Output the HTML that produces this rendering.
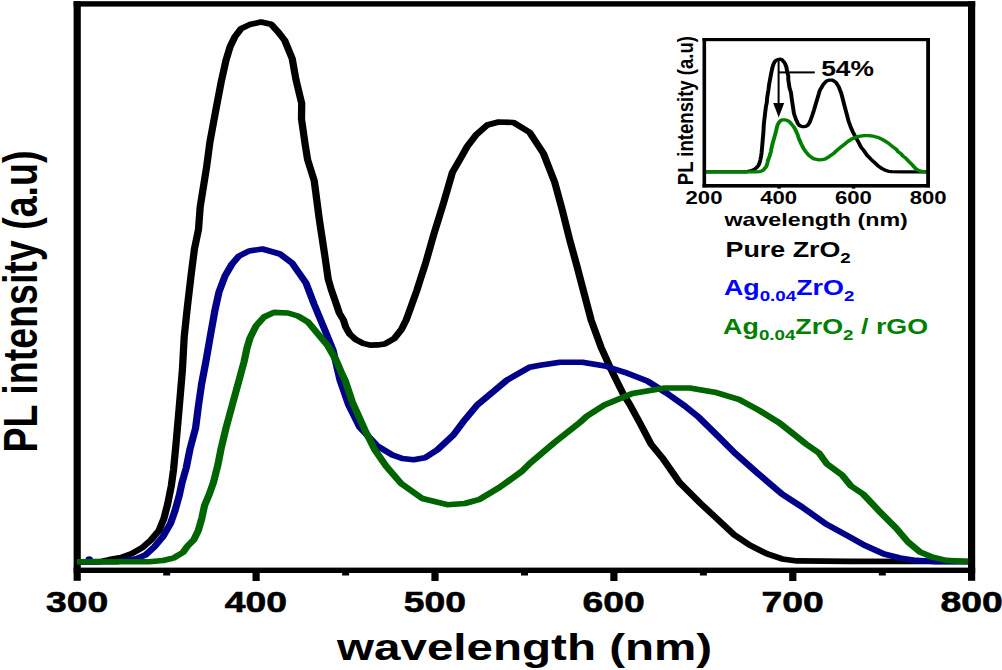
<!DOCTYPE html>
<html><head><meta charset="utf-8"><style>
html,body{margin:0;padding:0;background:#fff}
svg{display:block}
text{font-family:"Liberation Sans",sans-serif;font-weight:bold}
</style></head><body>
<svg width="1002" height="670" viewBox="0 0 1002 670">
<rect width="1002" height="670" fill="#fff"/>
<!-- main frame -->
<g fill="#000">
<rect x="73.6" y="1.2" width="7.2" height="579.6"/>
<rect x="968" y="1.2" width="7.2" height="579.6"/>
<rect x="73.6" y="1.2" width="901.6" height="5.4"/>
<rect x="73.6" y="567.6" width="901.6" height="5.4"/>
<rect x="252.5" y="570" width="7.2" height="11"/><rect x="431.4" y="570" width="7.2" height="11"/><rect x="610.3" y="570" width="7.2" height="11"/><rect x="789.2" y="570" width="7.2" height="11"/><rect x="163.2" y="570" width="7" height="5.5"/><rect x="342.1" y="570" width="7" height="5.5"/><rect x="521.0" y="570" width="7" height="5.5"/><rect x="699.9" y="570" width="7" height="5.5"/><rect x="878.8" y="570" width="7" height="5.5"/>
</g>
<g fill="none" stroke-linejoin="round" stroke-linecap="butt" transform="scale(1.3,1)" stroke-width="5.6">
<path d="M59.23,561.90 L76.92,561.60 L84.08,559.60 L93.08,557.50 L101.54,553.40 L109.62,547.50 L116.15,540.00 L122.31,530.50 L126.15,518.30 L129.00,503.90 L131.77,485.90 L133.46,470.00 L135.38,444.00 L137.69,410.00 L140.31,370.00 L141.69,337.00 L144.15,306.70 L147.08,274.30 L149.54,249.30 L152.69,229.40 L154.00,206.90 L158.92,167.00 L161.46,142.20 L165.69,112.30 L170.08,82.30 L173.92,59.90 L177.15,46.20 L180.62,36.90 L185.46,28.70 L192.15,24.50 L200.77,22.00 L208.46,24.20 L214.23,32.40 L219.00,40.40 L224.77,58.60 L227.69,79.80 L232.08,103.50 L231.92,119.00 L234.77,144.70 L236.62,159.70 L241.69,180.60 L245.62,219.40 L250.15,258.20 L252.46,279.10 L254.92,290.00 L258.15,302.00 L260.92,312.80 L264.15,319.90 L265.92,327.10 L269.15,334.30 L273.77,339.70 L279.31,343.30 L284.85,345.10 L290.38,344.90 L295.92,343.90 L303.31,338.50 L308.77,329.50 L312.46,319.90 L316.15,306.80 L320.77,290.00 L323.23,279.90 L327.31,263.50 L333.62,234.70 L341.31,202.30 L348.00,172.40 L354.69,157.40 L359.54,146.20 L366.23,134.90 L374.85,125.00 L383.54,122.00 L395.00,122.50 L407.46,132.40 L418.08,153.60 L426.69,182.30 L432.46,209.80 L438.23,239.70 L443.92,266.70 L447.08,282.40 L454.69,319.90 L462.38,347.30 L471.08,372.30 L479.69,394.70 L484.23,404.00 L492.23,423.00 L500.85,444.20 L509.54,457.90 L522.92,482.80 L538.31,502.80 L551.77,519.00 L565.15,535.20 L576.69,545.20 L590.15,553.90 L601.62,558.90 L613.15,560.90 L653.85,561.40 L744.62,561.50" stroke="#000"/>
<circle cx="68.62" cy="559.1" r="1.4" stroke="#00008b" stroke-width="2.8"/>
<path d="M59.23,562.00 L90.77,561.60 L96.54,560.30 L104.85,558.70 L111.77,555.10 L118.62,547.00 L125.54,536.20 L131.08,523.70 L134.54,511.10 L138.00,494.90 L140.08,482.30 L143.23,468.00 L146.15,449.00 L150.46,428.00 L152.62,406.00 L155.08,384.00 L158.31,362.00 L161.92,335.00 L165.38,310.00 L168.46,292.00 L173.08,276.00 L178.46,264.00 L183.85,256.00 L191.54,251.00 L201.85,249.00 L215.38,254.00 L224.62,263.00 L235.38,283.00 L241.54,304.00 L249.23,328.00 L256.15,350.00 L261.54,380.00 L268.23,405.00 L276.85,427.40 L290.31,446.10 L301.85,454.90 L309.54,458.60 L318.15,459.80 L326.77,457.80 L336.38,449.90 L348.85,434.90 L357.46,419.90 L367.08,405.00 L378.62,392.50 L390.08,380.00 L407.31,367.30 L415.38,365.30 L430.77,362.30 L448.00,362.30 L465.31,366.00 L480.62,372.30 L497.92,381.00 L513.23,393.50 L526.69,405.90 L537.69,417.40 L551.77,435.40 L565.15,452.90 L582.46,472.90 L601.62,494.10 L616.92,507.00 L635.38,524.00 L652.31,536.00 L664.62,545.00 L680.00,554.00 L692.31,558.00 L704.62,560.40 L720.00,561.60 L744.62,561.60" stroke="#00008b"/>
<path d="M59.23,561.70 L114.54,561.70 L125.54,560.50 L133.85,557.80 L140.77,552.40 L144.23,546.10 L149.08,539.80 L152.46,530.80 L155.23,518.30 L157.31,505.70 L160.77,494.90 L164.23,482.30 L167.69,464.40 L170.00,449.00 L173.85,428.00 L178.46,406.00 L183.08,384.00 L187.69,362.00 L190.00,348.00 L192.31,338.00 L196.92,326.00 L203.08,317.00 L210.77,312.40 L221.54,313.00 L229.23,316.00 L236.92,322.00 L244.62,334.00 L252.31,346.00 L258.46,360.00 L263.38,374.80 L265.38,380.00 L271.15,402.50 L280.69,429.90 L288.38,449.90 L297.00,466.10 L308.54,483.50 L324.85,498.50 L344.08,504.70 L357.46,503.50 L369.00,499.30 L384.38,487.30 L401.62,471.10 L407.38,463.60 L426.62,442.40 L446.15,422.40 L450.92,416.70 L465.31,404.70 L486.38,393.50 L511.38,388.00 L530.54,388.00 L549.77,392.20 L568.92,399.70 L583.46,410.00 L599.69,423.00 L612.31,436.00 L620.00,444.00 L630.00,453.00 L636.15,464.00 L647.69,475.00 L654.62,486.00 L663.85,494.00 L676.92,512.00 L689.23,528.00 L698.46,542.00 L707.69,552.00 L716.92,557.00 L727.69,560.40 L744.62,561.60" stroke="#006400"/>
</g>
<g fill="#000">
<text transform="translate(77.0,611.7) scale(1.232,1)" text-anchor="middle" font-size="30.3" stroke="#000" stroke-width="0.6">300</text><text transform="translate(255.9,611.7) scale(1.232,1)" text-anchor="middle" font-size="30.3" stroke="#000" stroke-width="0.6">400</text><text transform="translate(434.8,611.7) scale(1.232,1)" text-anchor="middle" font-size="30.3" stroke="#000" stroke-width="0.6">500</text><text transform="translate(613.7,611.7) scale(1.232,1)" text-anchor="middle" font-size="30.3" stroke="#000" stroke-width="0.6">600</text><text transform="translate(792.6,611.7) scale(1.232,1)" text-anchor="middle" font-size="30.3" stroke="#000" stroke-width="0.6">700</text><text transform="translate(971.5,611.7) scale(1.232,1)" text-anchor="middle" font-size="30.3" stroke="#000" stroke-width="0.6">800</text>
<text transform="translate(524.6,659.6) scale(1.303,1)" text-anchor="middle" font-size="36.5">wavelength (nm)</text>
<text transform="translate(37.1,301.5) rotate(-90) scale(0.77,1)" text-anchor="middle" font-size="48.8">PL intensity (a.u)</text>
</g>
<!-- inset -->
<g fill="none" stroke-linejoin="round" stroke-width="3.3" transform="scale(1.2,1)">
<path d="M586.83,171.80 L621.88,171.82 L623.49,171.40 L625.53,170.97 L627.44,170.11 L629.26,168.88 L630.74,167.31 L632.13,165.33 L633.00,162.78 L633.64,159.78 L634.27,156.02 L634.65,152.70 L635.08,147.28 L635.60,140.18 L636.19,131.83 L636.51,124.95 L637.06,118.62 L637.72,111.86 L638.28,106.64 L638.99,102.49 L639.29,97.79 L640.40,89.47 L640.97,84.29 L641.93,78.05 L642.92,71.79 L643.79,67.12 L644.52,64.26 L645.30,62.32 L646.39,60.60 L647.91,59.73 L649.85,59.21 L651.59,59.67 L652.89,61.38 L653.97,63.05 L655.27,66.84 L655.93,71.27 L656.92,76.22 L656.89,79.45 L657.53,84.81 L657.95,87.94 L659.09,92.31 L659.98,100.40 L661.01,108.50 L661.53,112.86 L662.08,115.14 L662.81,117.64 L663.44,119.90 L664.17,121.38 L664.57,122.88 L665.30,124.38 L666.34,125.51 L667.59,126.26 L668.84,126.64 L670.09,126.60 L671.34,126.39 L673.01,125.26 L674.25,123.38 L675.08,121.38 L675.91,118.64 L676.96,115.14 L677.51,113.03 L678.43,109.61 L679.86,103.60 L681.59,96.83 L683.11,90.59 L684.62,87.46 L685.71,85.13 L687.22,82.77 L689.17,80.70 L691.13,80.08 L693.72,80.18 L696.54,82.25 L698.93,86.67 L700.88,92.66 L702.18,98.40 L703.49,104.64 L704.77,110.28 L705.49,113.55 L707.21,121.38 L708.94,127.10 L710.91,132.31 L712.85,136.99 L713.88,138.93 L715.68,142.90 L717.63,147.32 L719.59,150.18 L722.62,155.38 L726.09,159.55 L729.13,162.93 L732.16,166.31 L734.76,168.40 L737.80,170.21 L740.39,171.26 L743.00,171.67 L752.19,171.78 L773.33,171.80" stroke="#000"/>
<path d="M586.83,171.80 L630.37,171.84 L632.86,171.59 L634.74,171.03 L636.30,169.90 L637.08,168.59 L638.18,167.27 L638.94,165.39 L639.57,162.78 L640.03,160.15 L640.82,157.90 L641.60,155.27 L642.38,151.54 L642.90,148.32 L643.77,143.94 L644.81,139.35 L645.86,134.76 L646.90,130.16 L647.42,127.24 L647.94,125.16 L648.98,122.65 L650.37,120.77 L652.11,119.81 L654.54,119.94 L656.28,120.56 L658.02,121.82 L659.75,124.32 L661.49,126.83 L662.88,129.75 L663.99,132.84 L664.45,133.92 L665.75,138.62 L667.90,144.34 L669.64,148.51 L671.59,151.89 L674.19,155.52 L677.88,158.65 L682.22,159.95 L685.24,159.70 L687.85,158.82 L691.32,156.31 L695.22,152.93 L696.52,151.37 L700.86,146.94 L705.28,142.77 L706.35,141.58 L709.60,139.08 L714.36,136.74 L720.01,135.59 L724.34,135.59 L728.68,136.47 L733.01,138.03 L736.29,140.18 L739.96,142.90 L742.81,145.61 L744.54,147.28 L746.80,149.16 L748.19,151.45 L750.80,153.75 L752.36,156.04 L754.45,157.71 L757.40,161.47 L760.18,164.81 L762.27,167.73 L764.35,169.82 L766.44,170.86 L768.87,171.57 L773.33,171.80" stroke="#008000"/>
</g>
<g fill="#000">
<rect x="702.5" y="38" width="3.6" height="149.3"/>
<rect x="926.2" y="38" width="3.8" height="149.3"/>
<rect x="702.5" y="38" width="227.5" height="3.2"/>
<rect x="702.5" y="184" width="227.5" height="3.6"/>
<rect x="777.3" y="186" width="3.6" height="2.6"/><rect x="851.7" y="186" width="3.6" height="2.6"/>
<rect x="777.6" y="61" width="2" height="43"/>
<polygon points="773.2,103 784.2,103 778.7,117.4"/>
<rect x="778.6" y="71.4" width="36.2" height="2"/>
</g>
<g fill="#000">
<text transform="translate(704.0,203.5) scale(1.21,1)" text-anchor="middle" font-size="18.3">200</text><text transform="translate(778.7,203.5) scale(1.21,1)" text-anchor="middle" font-size="18.3">400</text><text transform="translate(853.4,203.5) scale(1.21,1)" text-anchor="middle" font-size="18.3">600</text><text transform="translate(928.1,203.5) scale(1.21,1)" text-anchor="middle" font-size="18.3">800</text>
<text transform="translate(816.1,226.2) scale(1.25,1)" text-anchor="middle" font-size="18.6">wavelength (nm)</text>
<text transform="translate(692.5,110.6) rotate(-90) scale(0.808,1)" text-anchor="middle" font-size="23">PL intensity (a.u)</text>
<text transform="translate(821.2,75.6) scale(1.2,1)" font-size="22">54%</text>
<text transform="translate(725.5,256.6) scale(1.21,1)" font-size="22.2">Pure ZrO<tspan font-size="15.5" dy="6.5">2</tspan></text>
<text transform="translate(723.9,294.8) scale(1.21,1)" font-size="22.2" fill="#0000ff">Ag<tspan font-size="15.5" dy="6.5">0.04</tspan><tspan dy="-6.5">ZrO</tspan><tspan font-size="15.5" dy="6.5">2</tspan></text>
<text transform="translate(723.1,333.6) scale(1.21,1)" font-size="22.2" fill="#008000">Ag<tspan font-size="15.5" dy="6.5">0.04</tspan><tspan dy="-6.5">ZrO</tspan><tspan font-size="15.5" dy="6.5">2</tspan><tspan dy="-6.5"> / rGO</tspan></text>
</g>
</svg>
</body></html>
